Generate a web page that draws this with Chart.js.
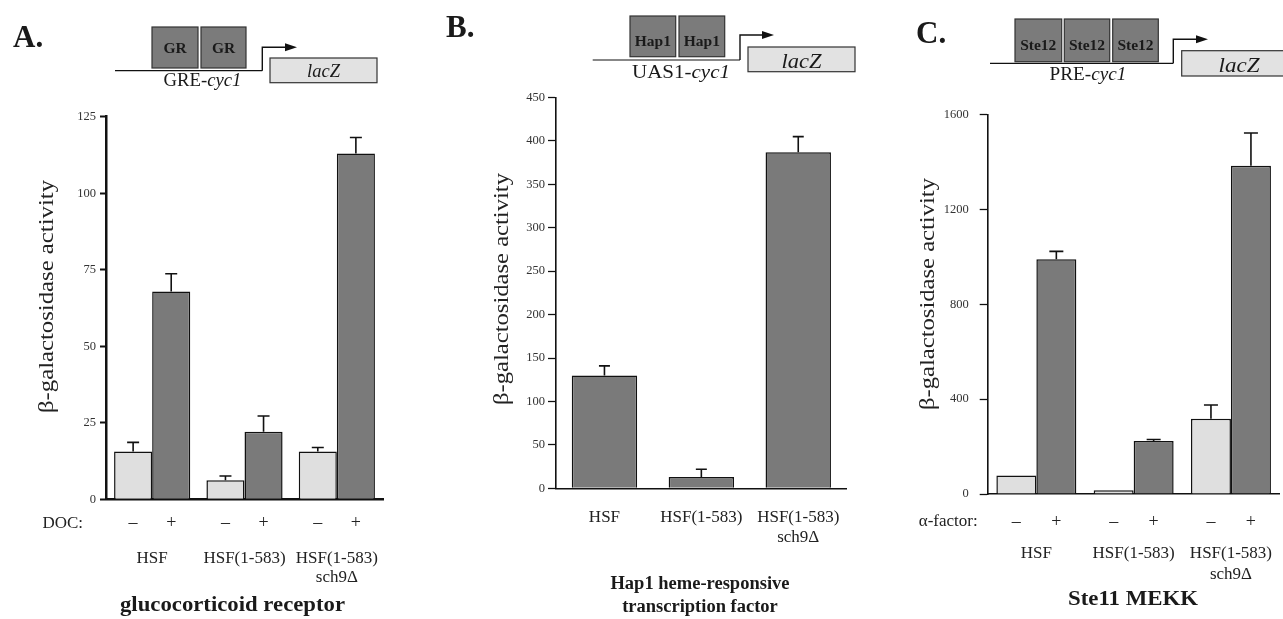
<!DOCTYPE html>
<html>
<head>
<meta charset="utf-8">
<script src="https://cdn.jsdelivr.net/npm/chart.js@4.4.1/dist/chart.umd.min.js"></script>
<style>
  body { margin: 0; background: #fff; width: 1283px; height: 619px; overflow: hidden; position: relative; }
  canvas { position: absolute; }
  svg { position: absolute; left: 0; top: 0; pointer-events: none; }
</style>
</head>
<body>
<canvas id="chartA" width="392" height="495" style="left:0;top:100px"></canvas>
<canvas id="chartB" width="372" height="468" style="left:480px;top:87px"></canvas>
<canvas id="chartC" width="383" height="494" style="left:900px;top:96px"></canvas>

<svg width="1283" height="619" font-family="Liberation Serif, serif" fill="#1a1a1a">
  <!-- panel letters -->
  <g font-weight="bold" font-size="31">
    <text x="13" y="46.5">A.</text>
    <text x="446" y="36.5">B.</text>
    <text x="916" y="43">C.</text>
  </g>

  <!-- A: GRE-cyc1 reporter -->
  <g stroke="#333" stroke-width="1.2">
    <line x1="115" y1="70.7" x2="262.3" y2="70.7" stroke="#111"/>
    <rect x="152" y="27" width="46" height="41" fill="#7b7b7b"/>
    <rect x="201" y="27" width="45" height="41" fill="#7b7b7b"/>
    <polyline points="262.3,70.7 262.3,47.3 287,47.3" fill="none" stroke="#111" stroke-width="1.4"/>
    <rect x="270" y="58" width="107" height="24.7" fill="#e2e2e2"/>
  </g>
  <polygon points="285,43.3 297,47.3 285,51.3" fill="#111"/>
  <g font-weight="bold" font-size="15.5" text-anchor="middle">
    <text x="175" y="53.3">GR</text>
    <text x="223.5" y="53.3">GR</text>
  </g>
  <text x="323.5" y="77" font-style="italic" font-size="19" text-anchor="middle" textLength="33" lengthAdjust="spacingAndGlyphs">lacZ</text>
  <text x="202.5" y="86" font-size="18" text-anchor="middle" textLength="78" lengthAdjust="spacingAndGlyphs">GRE-<tspan font-style="italic">cyc1</tspan></text>

  <!-- B: UAS1-cyc1 reporter -->
  <g stroke="#333" stroke-width="1.2">
    <line x1="592.7" y1="60" x2="740" y2="60" stroke="#111"/>
    <rect x="630" y="16" width="45.7" height="40.7" fill="#7b7b7b"/>
    <rect x="679" y="16" width="45.7" height="40.7" fill="#7b7b7b"/>
    <polyline points="740,60 740,35 764,35" fill="none" stroke="#111" stroke-width="1.4"/>
    <rect x="748" y="47" width="107" height="24.7" fill="#e2e2e2"/>
  </g>
  <polygon points="762,31 774,35 762,39" fill="#111"/>
  <g font-weight="bold" font-size="15.5" text-anchor="middle">
    <text x="652.8" y="46">Hap1</text>
    <text x="701.8" y="46">Hap1</text>
  </g>
  <text x="801.5" y="68" font-style="italic" font-size="20" text-anchor="middle" textLength="40" lengthAdjust="spacingAndGlyphs">lacZ</text>
  <text x="681" y="78" font-size="19" text-anchor="middle" textLength="98" lengthAdjust="spacingAndGlyphs">UAS1-<tspan font-style="italic">cyc1</tspan></text>

  <!-- C: PRE-cyc1 reporter -->
  <g stroke="#333" stroke-width="1.2">
    <line x1="990" y1="63.3" x2="1173.3" y2="63.3" stroke="#111"/>
    <rect x="1015" y="19" width="46.7" height="42.7" fill="#7b7b7b"/>
    <rect x="1064.3" y="19" width="45.4" height="42.7" fill="#7b7b7b"/>
    <rect x="1112.7" y="19" width="45.6" height="42.7" fill="#7b7b7b"/>
    <polyline points="1173.3,63.3 1173.3,39.3 1197,39.3" fill="none" stroke="#111" stroke-width="1.4"/>
    <rect x="1181.7" y="50.7" width="110" height="25.3" fill="#e2e2e2"/>
  </g>
  <polygon points="1196,35.3 1208,39.3 1196,43.3" fill="#111"/>
  <g font-weight="bold" font-size="15.5" text-anchor="middle">
    <text x="1038.3" y="50">Ste12</text>
    <text x="1087" y="50">Ste12</text>
    <text x="1135.5" y="50">Ste12</text>
  </g>
  <text x="1239" y="71.5" font-style="italic" font-size="20" text-anchor="middle" textLength="41" lengthAdjust="spacingAndGlyphs">lacZ</text>
  <text x="1088" y="80" font-size="19" text-anchor="middle" textLength="77" lengthAdjust="spacingAndGlyphs">PRE-<tspan font-style="italic">cyc1</tspan></text>

  <!-- y axis titles -->
  <g font-size="21" text-anchor="middle" fill="#222">
    <text x="53" y="296.5" transform="rotate(-90 53 296.5)" textLength="233" lengthAdjust="spacingAndGlyphs">β-galactosidase activity</text>
    <text x="508" y="289" transform="rotate(-90 508 289)" textLength="232" lengthAdjust="spacingAndGlyphs">β-galactosidase activity</text>
    <text x="934" y="294" transform="rotate(-90 934 294)" textLength="232" lengthAdjust="spacingAndGlyphs">β-galactosidase activity</text>
  </g>

  <!-- panel captions -->
  <g font-weight="bold" text-anchor="middle">
    <text x="232.5" y="611" font-size="20" textLength="225" lengthAdjust="spacingAndGlyphs">glucocorticoid receptor</text>
    <text x="700" y="589" font-size="18.5">Hap1 heme-responsive</text>
    <text x="700" y="612" font-size="18.5">transcription factor</text>
    <text x="1133" y="605" font-size="21" textLength="130" lengthAdjust="spacingAndGlyphs">Ste11 MEKK</text>
  </g>
</svg>

<script>
// ---- data ----
const strains = ['HSF', 'HSF(1-583)', ['HSF(1-583)', 'sch9Δ']];
const conditionSigns = ['–', '+'];

// A. GRE-cyc1, -/+ DOC
const grNoDoc = [15.6, 6.2, 15.6];
const grNoDocErr = [3.0, 1.4, 1.3];
const grDoc = [67.9, 22.1, 113.0];
const grDocErr = [5.8, 5.1, 5.2];
const grTicks = [0, 25, 50, 75, 100, 125];

// B. UAS1-cyc1
const hap1 = [130, 13, 387];
const hap1Err = [11, 9, 18];
const hap1Ticks = [0, 50, 100, 150, 200, 250, 300, 350, 400, 450];

// C. PRE-cyc1, -/+ alpha-factor
const steNoAlpha = [78, 16, 317];
const steNoAlphaErr = [0, 0, 58];
const steAlpha = [990, 223, 1384];
const steAlphaErr = [33, 7, 138];
const steTicks = [0, 400, 800, 1200, 1600];

const LIGHT = '#dfdfdf';
const DARK = '#7a7a7a';
const FONT = "'Liberation Serif', 'Times New Roman', serif";

// error bars (upper only) drawn from dataset.errors
const errorBars = {
  id: 'errorBars',
  afterDatasetsDraw(chart, args, opts) {
    const ctx = chart.ctx;
    const y = chart.scales.y;
    chart.data.datasets.forEach((ds, i) => {
      chart.getDatasetMeta(i).data.forEach((bar, j) => {
        const e = ds.errors[j];
        if (!e) return;
        const top = y.getPixelForValue(ds.data[j] + e);
        ctx.save();
        ctx.strokeStyle = '#111';
        ctx.lineWidth = 1.6;
        ctx.beginPath();
        ctx.moveTo(bar.x, bar.y);
        ctx.lineTo(bar.x, top);
        ctx.moveTo(bar.x - opts.cap / 2, top);
        ctx.lineTo(bar.x + opts.cap / 2, top);
        ctx.stroke();
        ctx.restore();
      });
    });
  }
};

// category names under the x axis, placed at the scale's tick pixels
const strainLabels = {
  id: 'strainLabels',
  afterDraw(chart, args, opts) {
    const ctx = chart.ctx;
    const x = chart.scales.x;
    const base = chart.chartArea.bottom + opts.first;
    ctx.save();
    ctx.fillStyle = '#222';
    ctx.textAlign = 'center';
    ctx.textBaseline = 'alphabetic';
    ctx.font = '17px ' + FONT;
    chart.data.labels.forEach((lab, i) => {
      const lines = Array.isArray(lab) ? lab : [lab];
      lines.forEach((t, k) => ctx.fillText(t, x.getPixelForTick(i), base + k * opts.lh));
    });
    ctx.restore();
  }
};

// row of -/+ under each bar plus the treatment label
const condRow = {
  id: 'condRow',
  afterDraw(chart, args, opts) {
    if (!opts.label) return;
    const ctx = chart.ctx;
    const area = chart.chartArea;
    const y = area.bottom + opts.offset;
    ctx.save();
    ctx.fillStyle = '#222';
    ctx.textBaseline = 'middle';
    ctx.textAlign = 'center';
    ctx.font = '18px ' + FONT;
    chart.data.datasets.forEach((ds, i) => {
      chart.getDatasetMeta(i).data.forEach(bar => ctx.fillText(ds.sign, bar.x, y));
    });
    ctx.textAlign = 'right';
    ctx.font = '17px ' + FONT;
    ctx.fillText(opts.label, area.left + opts.labelDx, y);
    ctx.restore();
  }
};

function panel(id, cfg) {
  const ticks = cfg.ticks;
  return new Chart(document.getElementById(id), {
    type: 'bar',
    data: { labels: strains, datasets: cfg.datasets },
    options: {
      responsive: false,
      animation: false,
      devicePixelRatio: 1,
      layout: { padding: cfg.padding },
      datasets: { bar: { categoryPercentage: cfg.catPct, barPercentage: cfg.barPct } },
      plugins: {
        legend: { display: false },
        tooltip: { enabled: false },
        errorBars: { cap: cfg.cap },
        strainLabels: cfg.labels,
        condRow: cfg.row || {}
      },
      scales: {
        x: {
          afterFit: s => { s.height = cfg.xHeight; },
          border: { display: true, color: '#111', width: cfg.axisWidth },
          grid: { display: false, drawTicks: false },
          ticks: { display: false }
        },
        y: {
          min: ticks[0],
          max: ticks[ticks.length - 1],
          afterBuildTicks: s => { s.ticks = ticks.map(v => ({ value: v })); },
          afterFit: s => { s.width = cfg.yWidth; },
          border: { display: true, color: '#111', width: cfg.axisWidth },
          grid: { display: true, drawOnChartArea: false, drawTicks: true, tickLength: cfg.tickLen, tickColor: '#111', tickWidth: cfg.axisWidth * 0.8 },
          ticks: { color: '#333', padding: cfg.tickPad, font: { family: FONT, size: 12.5 }, callback: v => String(v) }
        }
      }
    },
    plugins: [errorBars, strainLabels, condRow]
  });
}

function bars(values, errors, fill, sign) {
  return { data: values, errors: errors, sign: sign, backgroundColor: fill, borderColor: '#111', borderWidth: 1.5 };
}

panel('chartA', {
  datasets: [bars(grNoDoc, grNoDocErr, LIGHT, conditionSigns[0]), bars(grDoc, grDocErr, DARK, conditionSigns[1])],
  ticks: grTicks,
  padding: { top: 16.7, right: 9, left: 0, bottom: 0 },
  yWidth: 106, xHeight: 95.7,
  catPct: 0.825, barPct: 1.0,
  axisWidth: 2.5, tickLen: 6, tickPad: 4, cap: 12,
  labels: { first: 64, lh: 18.4 },
  row: { label: 'DOC:', offset: 24, labelDx: -23 }
});

panel('chartB', {
  datasets: [bars(hap1, hap1Err, DARK, '')],
  ticks: hap1Ticks,
  padding: { top: 10.3, right: 5.3, left: 0, bottom: 0 },
  yWidth: 76, xHeight: 66.7,
  catPct: 1.0, barPct: 0.675,
  axisWidth: 1.6, tickLen: 8, tickPad: 3, cap: 11,
  labels: { first: 33.2, lh: 20 }
});

panel('chartC', {
  datasets: [bars(steNoAlpha, steNoAlphaErr, LIGHT, conditionSigns[0]), bars(steAlpha, steAlphaErr, DARK, conditionSigns[1])],
  ticks: steTicks,
  padding: { top: 10.7, right: 3.4, left: 0, bottom: 0 },
  yWidth: 87.7, xHeight: 96,
  catPct: 0.822, barPct: 1.0,
  axisWidth: 1.6, tickLen: 8, tickPad: 11, cap: 14,
  labels: { first: 63.7, lh: 21.6 },
  row: { label: 'α-factor:', offset: 28, labelDx: -10 }
});
</script>
</body>
</html>
